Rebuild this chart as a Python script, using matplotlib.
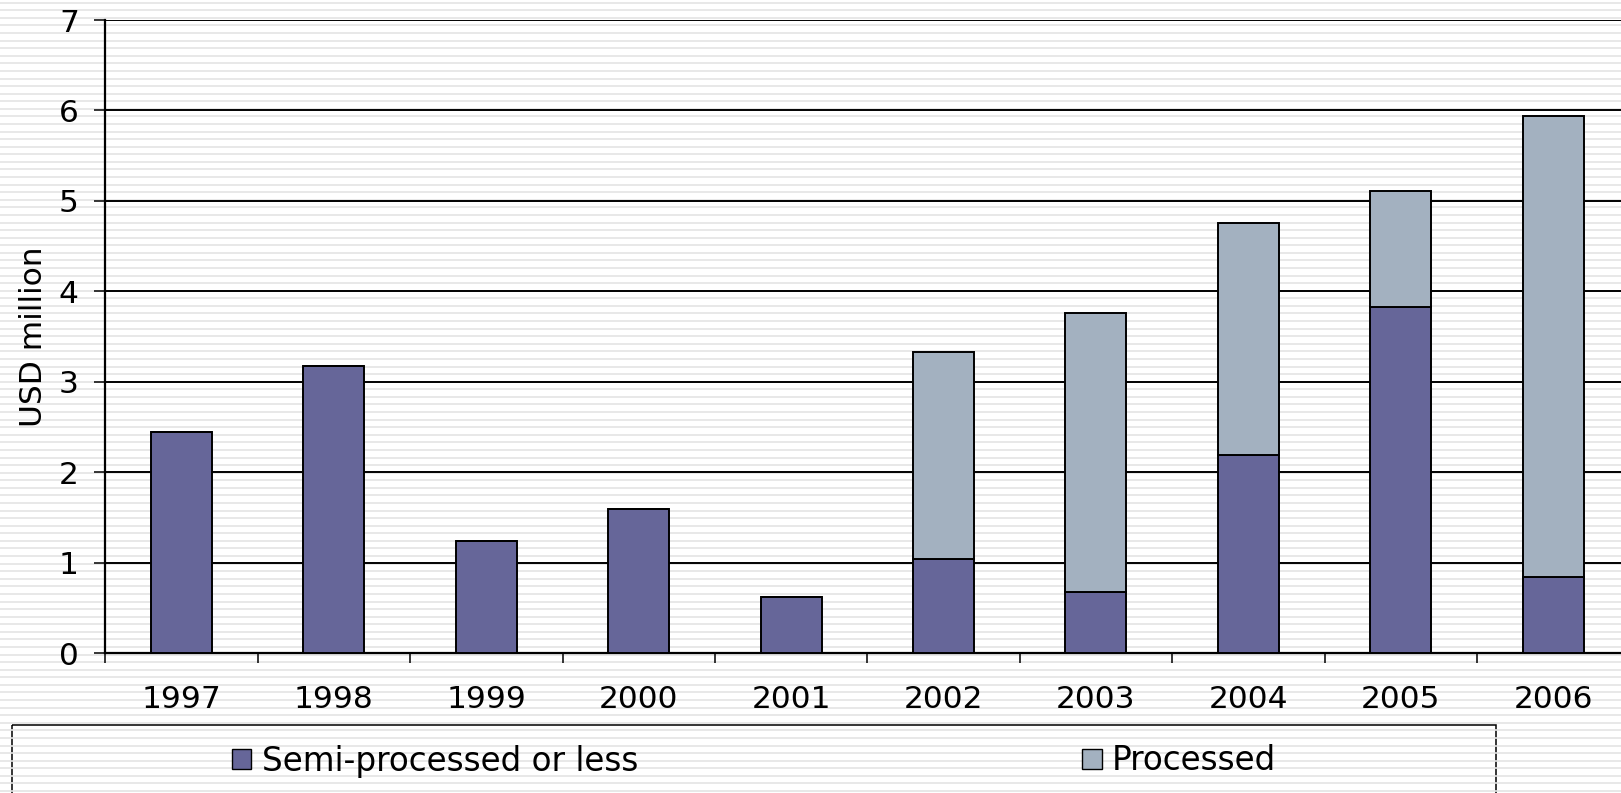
# Stacked bars: semi-processed vs processed exports, 1997-2006
import matplotlib
matplotlib.use('Agg')
import matplotlib.pyplot as plt
import numpy as np
from matplotlib.patches import Patch, Rectangle

plt.rcParams['font.family'] = ['DejaVu Sans']

years = ['1997', '1998', '1999', '2000', '2001', '2002', '2003', '2004', '2005', '2006']
semi = [2.45, 3.18, 1.24, 1.59, 0.62, 1.04, 0.68, 2.19, 3.83, 0.84]
processed = [0, 0, 0, 0, 0, 2.29, 3.08, 2.57, 1.28, 5.10]
series_names = ['Semi-processed or less', 'Processed']

col_semi = '#666699'
col_proc = '#a3b1c0'

W, H = 1621, 793
fig = plt.figure(figsize=(W / 100, H / 100), dpi=100, facecolor='white')

# striped background over the whole picture
bg = fig.add_axes([0, 0, 1, 1], zorder=-1)
bg.set_xlim(0, W)
bg.set_ylim(H, 0)
bg.axis('off')
bg.hlines(np.arange(2.7, H, 7.58), 0, W, color='#e4e4e4', lw=1.2)
# legend frame (bottom runs off the picture)
bg.add_patch(Rectangle((12, 725), 1484, 90, fill=False, edgecolor='black', lw=1.1))

ax = fig.add_axes([105.3 / W, 1 - 653.3 / H, 1524.1 / W, 633.3 / H])
ax.patch.set_alpha(0)

x = np.arange(len(years))
ax.bar(x, semi, width=0.4, color=col_semi, edgecolor='black', lw=1.4, zorder=3)
ax.bar(x, processed, width=0.4, bottom=semi, color=col_proc, edgecolor='black', lw=1.4, zorder=3)

ax.set_xlim(-0.5, len(years) - 0.5)
ax.set_ylim(0, 7)
ax.set_yticks(range(8))
ax.yaxis.grid(True, color='black', lw=1.4, zorder=0)
ax.set_axisbelow(True)

ax.set_xticks(x)
ax.set_xticklabels(years, fontsize=22.5)
ax.set_xticks(np.arange(-0.5, len(years), 1), minor=True)
ax.tick_params(axis='x', which='major', length=0, pad=23)
ax.tick_params(axis='x', which='minor', length=7.5, width=1.1, direction='out')
ax.tick_params(axis='y', length=8, width=1.1, direction='out', labelsize=22.5, pad=11)

for s in ['top', 'right']:
    ax.spines[s].set_visible(False)
for s in ['left', 'bottom']:
    ax.spines[s].set_linewidth(1.6)

ax.set_ylabel('USD million', fontsize=22.5, labelpad=8)

handles = [Patch(facecolor=col_semi, edgecolor='black', lw=1),
           Patch(facecolor=col_proc, edgecolor='black', lw=1)]
fig.legend(handles, series_names, loc='center', bbox_to_anchor=(754 / W, 1 - 761 / H),
           ncol=2, frameon=False, fontsize=23.5, handlelength=0.6, handleheight=0.6,
           handletextpad=0.32, columnspacing=13.6, borderpad=0)

fig.savefig('out.png', dpi=100, facecolor='white')
